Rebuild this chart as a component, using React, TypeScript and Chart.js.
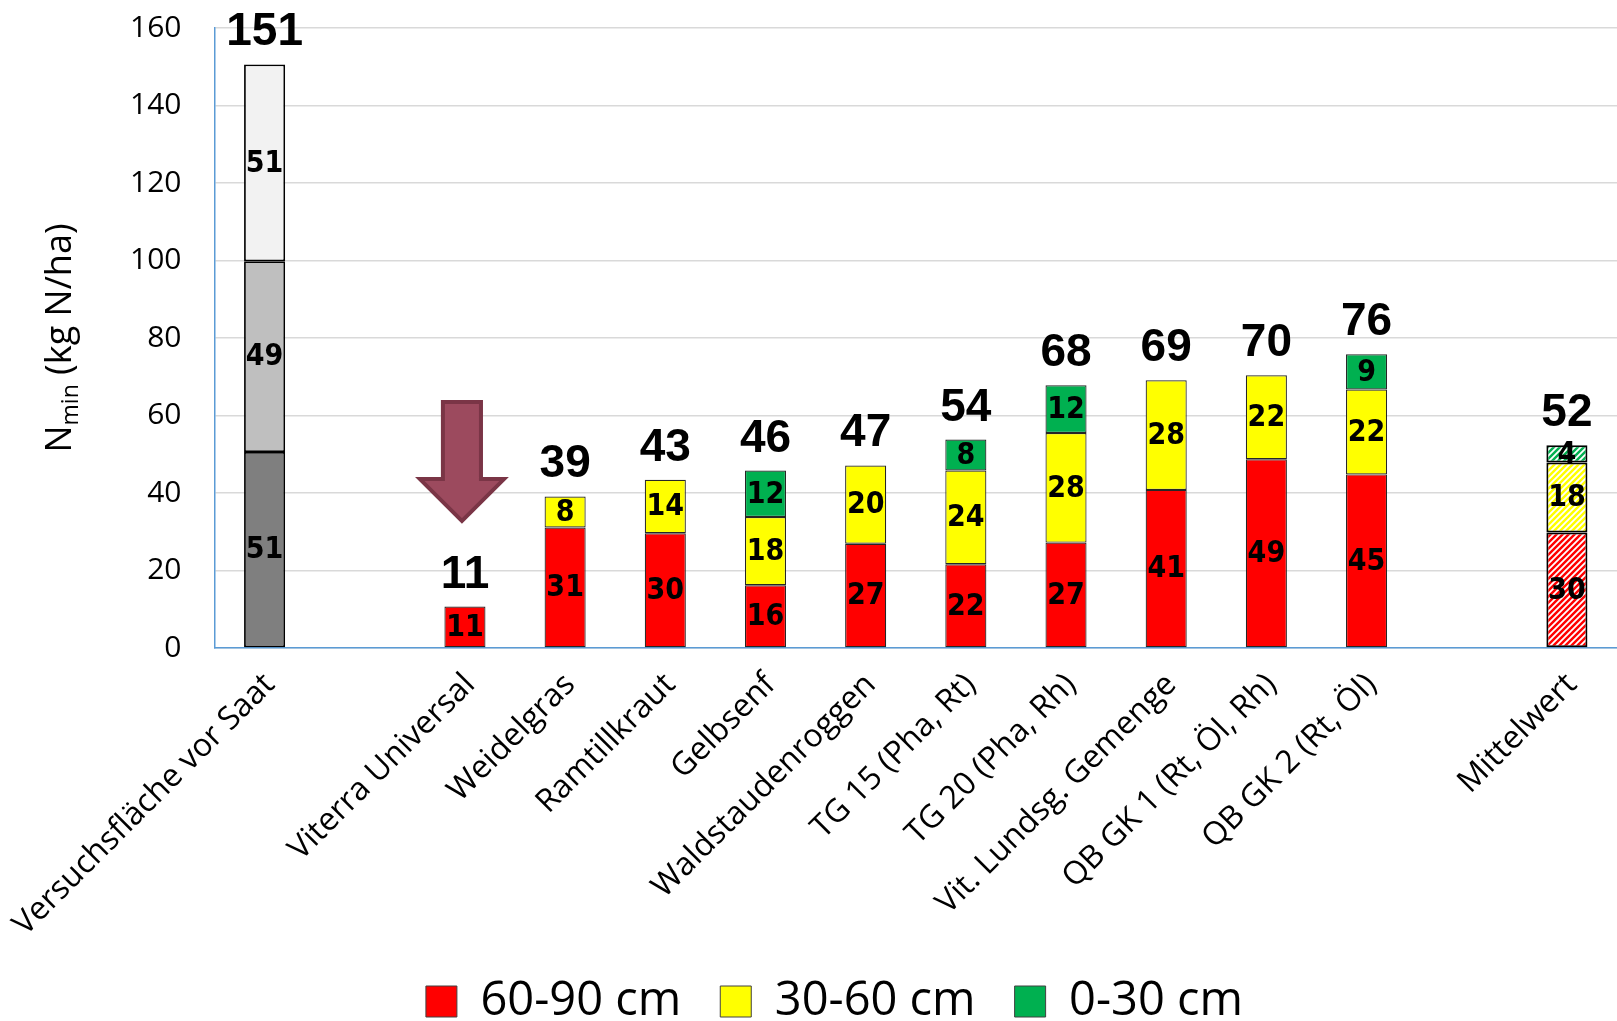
import React, { useEffect, useRef } from 'react';
import { Chart, registerables } from 'chart.js';

Chart.register(...registerables);

// ---------- data ----------
const categories = [
  'Versuchsfläche vor Saat',
  '',
  'Viterra Universal',
  'Weidelgras',
  'Ramtillkraut',
  'Gelbsenf',
  'Waldstaudenroggen',
  'TG 15 (Pha, Rt)',
  'TG 20 (Pha, Rh)',
  'Vit. Lundsg. Gemenge',
  'QB GK 1 (Rt, Öl, Rh)',
  'QB GK 2 (Rt, Öl)',
  '',
  'Mittelwert',
];

const depth60to90 = [null, null, 10.7, 31.1, 29.6, 16.2, 26.9, 21.6, 27.2, 40.8, 48.7, 44.8, null, 29.8];
const depth30to60 = [null, null, null, 8.0, 13.8, 17.6, 20.2, 24.2, 28.3, 28.3, 21.7, 21.9, null, 18.1];
const depth0to30 = [null, null, null, null, null, 12.0, null, 8.0, 12.3, null, null, 9.1, null, 4.4];

const beforeSowing60to90 = [50.6, null, null, null, null, null, null, null, null, null, null, null, null, null];
const beforeSowing30to60 = [49.2, null, null, null, null, null, null, null, null, null, null, null, null, null];
const beforeSowing0to30 = [50.8, null, null, null, null, null, null, null, null, null, null, null, null, null];

const legendLabels = ['60-90 cm', '30-60 cm', '0-30 cm'];
const yMin = 0;
const yMax = 160;
const yStep = 20;
const meanIndex = 13;

// arrow annotation (value space)
const arrowCategory = 1.97;
const arrowTop = 63.5;
const arrowHeadStart = 43.6;
const arrowTip = 32.8;
const arrowHeadHalf = 0.42; // fraction of category spacing
const arrowShaftHalf = 0.19;

// ---------- styles ----------
const RED = '#ff0000';
const YELLOW = '#ffff00';
const GREEN = '#00b050';
const GREY_DARK = '#7f7f7f';
const GREY_MID = '#bfbfbf';
const GREY_LIGHT = '#f2f2f2';
const AXIS_BLUE = '#5b9bd5';

function makeHatch(color: string): CanvasPattern | string {
  const size = 6;
  const c = document.createElement('canvas');
  c.width = size;
  c.height = size;
  const g = c.getContext('2d');
  if (!g) return color;
  g.fillStyle = color;
  g.fillRect(0, 0, size, size);
  g.strokeStyle = '#ffffff';
  g.lineWidth = 1.8;
  g.beginPath();
  g.moveTo(-1, size + 1);
  g.lineTo(size + 1, -1);
  g.moveTo(-1, 1);
  g.lineTo(1, -1);
  g.moveTo(size - 1, size + 1);
  g.lineTo(size + 1, size - 1);
  g.stroke();
  const p = g.createPattern(c, 'repeat');
  return p || color;
}

const labelsPlugin = {
  id: 'barLabels',
  afterDatasetsDraw(chart: any) {
    const { ctx, scales } = chart;
    const y = scales.y;
    ctx.save();
    // inner segment labels
    ctx.font = "bold 30px 'DejaVu Sans Condensed', 'Liberation Sans', sans-serif";
    ctx.fillStyle = '#000';
    ctx.textAlign = 'center';
    ctx.textBaseline = 'middle';
    chart.data.datasets.forEach((ds: any, di: number) => {
      const meta = chart.getDatasetMeta(di);
      meta.data.forEach((el: any, i: number) => {
        const v = ds.data[i];
        if (v === null || v === undefined) return;
        const cy = (el.y + el.base) / 2;
        ctx.fillText(String(Math.round(v)), el.x, cy + 1);
      });
    });
    // totals
    ctx.font = "bold 46px 'Liberation Sans', Arial, sans-serif";
    ctx.textBaseline = 'alphabetic';
    const xs = scales.x;
    categories.forEach((_c, i) => {
      let total = 0;
      let has = false;
      chart.data.datasets.forEach((ds: any) => {
        const v = ds.data[i];
        if (v !== null && v !== undefined) {
          total += v;
          has = true;
        }
      });
      if (!has) return;
      const px = xs.getPixelForValue(i);
      const py = y.getPixelForValue(total) - 19;
      ctx.fillText(String(Math.round(total)), px, py);
    });
    // arrow
    const step = xs.getPixelForValue(1) - xs.getPixelForValue(0);
    const cx = xs.getPixelForValue(arrowCategory);
    const yTop = y.getPixelForValue(arrowTop);
    const yHead = y.getPixelForValue(arrowHeadStart);
    const yTip = y.getPixelForValue(arrowTip);
    const hh = arrowHeadHalf * step;
    const sh = arrowShaftHalf * step;
    ctx.beginPath();
    ctx.moveTo(cx - sh, yTop);
    ctx.lineTo(cx + sh, yTop);
    ctx.lineTo(cx + sh, yHead);
    ctx.lineTo(cx + hh, yHead);
    ctx.lineTo(cx, yTip);
    ctx.lineTo(cx - hh, yHead);
    ctx.lineTo(cx - sh, yHead);
    ctx.closePath();
    ctx.fillStyle = '#9c4a5e';
    ctx.fill();
    ctx.lineWidth = 4;
    ctx.lineJoin = 'miter';
    ctx.strokeStyle = '#7a3546';
    ctx.stroke();
    ctx.restore();
  },
  afterDraw(chart: any) {
    const { ctx, chartArea } = chart;
    ctx.save();
    const cyMid = (chartArea.top + chartArea.bottom) / 2;
    const big = "36px 'Open Sans', sans-serif";
    const small = "23px 'Open Sans', sans-serif";
    ctx.font = big;
    const wN = ctx.measureText('N').width;
    const wRest = ctx.measureText(' (kg N/ha)').width;
    ctx.font = small;
    const wSub = ctx.measureText('min').width;
    const total = wN + wSub + wRest;
    ctx.translate(0, cyMid);
    ctx.rotate(-Math.PI / 2);
    ctx.fillStyle = '#000';
    ctx.textBaseline = 'alphabetic';
    ctx.textAlign = 'left';
    let lx = -total / 2;
    const base = 71;
    ctx.font = big;
    ctx.fillText('N', lx, base);
    lx += wN;
    ctx.font = small;
    ctx.fillText('min', lx, base + 7);
    lx += wSub;
    ctx.font = big;
    ctx.fillText(' (kg N/ha)', lx, base);
    ctx.restore();
  },
};

export default function App() {
  const ref = useRef<HTMLCanvasElement | null>(null);

  useEffect(() => {
    if (!ref.current) return;
    Chart.defaults.font.family = "'Open Sans', sans-serif";
    const hatchRed = makeHatch(RED);
    const hatchYellow = makeHatch(YELLOW);
    const hatchGreen = makeHatch(GREEN);

    const colored = (color: string, hatch: any) => (c: any) => (c.dataIndex === meanIndex ? hatch : color);
    const bw = (c: any) => (c.dataIndex === meanIndex ? 2 : 1.2);
    const bc = (c: any) => (c.dataIndex === meanIndex ? '#000000' : '#262626');

    const common = {
      borderSkipped: false as const,
      barPercentage: 0.41,
      categoryPercentage: 1,
      stack: 's',
    };

    const chart = new Chart(ref.current, {
      type: 'bar',
      data: {
        labels: categories,
        datasets: [
          { label: legendLabels[0], data: depth60to90, backgroundColor: colored(RED, hatchRed), borderColor: bc, borderWidth: bw, ...common },
          { label: legendLabels[1], data: depth30to60, backgroundColor: colored(YELLOW, hatchYellow), borderColor: bc, borderWidth: bw, ...common },
          { label: legendLabels[2], data: depth0to30, backgroundColor: colored(GREEN, hatchGreen), borderColor: bc, borderWidth: bw, ...common },
          { label: 'vor Saat 60-90', data: beforeSowing60to90, backgroundColor: GREY_DARK, borderColor: '#000', borderWidth: 1.8, ...common },
          { label: 'vor Saat 30-60', data: beforeSowing30to60, backgroundColor: GREY_MID, borderColor: '#000', borderWidth: 1.8, ...common },
          { label: 'vor Saat 0-30', data: beforeSowing0to30, backgroundColor: GREY_LIGHT, borderColor: '#000', borderWidth: 1.8, ...common },
        ] as any,
      },
      options: {
        animation: false,
        responsive: true,
        maintainAspectRatio: false,
        layout: { padding: { left: 48, right: -4, top: 28, bottom: 0 } },
        plugins: {
          tooltip: { enabled: false },
          legend: {
            position: 'bottom',
            maxHeight: 82,
            onClick: () => {},
            labels: {
              boxWidth: 31,
              boxHeight: 31,
              padding: 39,
              color: '#000',
              font: { size: 47, family: "'Open Sans', sans-serif" },
              generateLabels: () =>
                [RED, YELLOW, GREEN].map((col, i) => ({
                  text: legendLabels[i],
                  fillStyle: col,
                  strokeStyle: '#404040',
                  lineWidth: 1,
                  fontColor: '#000',
                  datasetIndex: i,
                  hidden: false,
                })),
            },
          },
        },
        scales: {
          x: {
            stacked: true,
            grid: { display: false },
            border: { color: AXIS_BLUE, width: 1.5 },
            ticks: {
              autoSkip: false,
              maxRotation: 45,
              minRotation: 45,
              padding: 10,
              labelOffset: 5,
              color: '#000',
              font: { size: 32, family: "'Open Sans', sans-serif" },
            },
            afterFit: (s: any) => {
              s.height = 291;
              s.paddingLeft = 0;
              s.paddingRight = 0;
            },
          },
          y: {
            stacked: true,
            min: yMin,
            max: yMax,
            ticks: {
              stepSize: yStep,
              padding: 33,
              color: '#000',
              font: { size: 30, family: "'Open Sans', sans-serif" },
            },
            grid: { color: '#d9d9d9', lineWidth: 1.5, drawTicks: false },
            border: { color: AXIS_BLUE, width: 1.5 },
            afterFit: (s: any) => {
              s.width = 166.5;
              s.paddingTop = 0;
              s.paddingBottom = 0;
            },
          },
        },
      },
      plugins: [labelsPlugin],
    });
    return () => chart.destroy();
  }, []);

  return (
    <div style={{ position: 'fixed', left: 0, top: 0, width: 1617, height: 1021, background: '#fff' }}>
      <canvas ref={ref} />
    </div>
  );
}
